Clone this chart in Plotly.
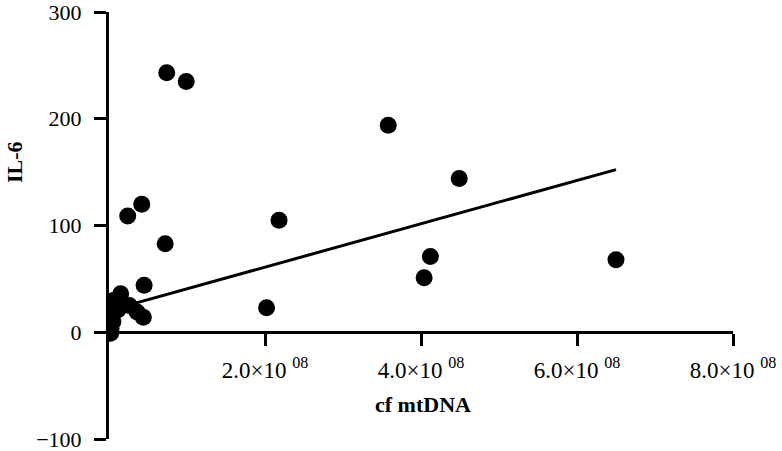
import plotly.graph_objects as go
import numpy as np

# cf mtDNA (copies) and IL-6 values
cf_mtdna = [7.4e7, 9.9e7, 3.58e8, 4.49e8, 2.18e8, 4.12e8, 4.04e8, 6.5e8, 2.02e8,
            7.2e7, 4.2e7, 2.4e7, 4.5e7,
            1.5e7, 6.4e6, 2.6e7, 3.6e7, 4.4e7, 2.6e6, 5.0e6, 2.6e6, 2.0e6, 1.15e7, 0.5e6]
il6 = [243, 235, 194, 144, 105, 71, 51, 68, 23,
       83, 120, 109, 44,
       36, 30, 25, 19, 14, 16, 10, 3, -1, 21, 7]

# regression line
fit_intercept = 20.4
fit_slope = 2.03e-7

x_tickvals = [2e8, 4e8, 6e8, 8e8]
x_ticktext = ["2.0×10 <sup>08</sup>", "4.0×10 <sup>08</sup>", "6.0×10 <sup>08</sup>", "8.0×10 <sup>08</sup>"]
y_tickvals = [-100, 0, 100, 200, 300]

FONT = "Liberation Serif"
W, H = 782, 451

fig = go.Figure()
fx = np.array([min(cf_mtdna), max(cf_mtdna)])
fig.add_trace(go.Scatter(x=fx, y=fit_intercept + fit_slope * fx, mode="lines",
                         line=dict(color="black", width=3), showlegend=False))
fig.add_trace(go.Scatter(x=cf_mtdna, y=il6, mode="markers",
                         marker=dict(color="black", size=17, line=dict(width=0)),
                         showlegend=False))

ydom = [(H - 439) / H, (H - 12) / H]
fig.update_layout(
    width=W, height=H,
    margin=dict(l=0, r=0, t=0, b=0),
    paper_bgcolor="white", plot_bgcolor="white",
    font=dict(family=FONT, color="black", size=23),
    xaxis=dict(range=[0, 8e8], tickvals=x_tickvals, ticktext=x_ticktext,
               domain=[109 / W, 733 / W], automargin=False, ticklabeloverflow="allow",
               showgrid=False, zeroline=False, showline=True, linecolor="black", linewidth=3,
               ticks="outside", ticklen=12, tickwidth=3, tickcolor="black",
               anchor="free", position=ydom[0] + 0.25 * (ydom[1] - ydom[0]),
               ticklabelstandoff=4,
               tickfont=dict(family=FONT, size=23)),
    yaxis=dict(range=[-100, 300], tickvals=y_tickvals, domain=ydom, automargin=False,
               ticklabeloverflow="allow",
               showgrid=False, zeroline=False, showline=True, linecolor="black", linewidth=3,
               ticks="outside", ticklen=12, tickwidth=3, tickcolor="black",
               ticklabelstandoff=8,
               tickfont=dict(family=FONT, size=22)),
    annotations=[
        dict(text="<b>cf mtDNA</b>", x=423 / W, y=1 - 404 / H, xref="paper", yref="paper",
             xanchor="center", yanchor="middle",
             showarrow=False, font=dict(family=FONT, size=22)),
        dict(text="<b>IL-6</b>", x=15 / W, y=1 - 162 / H, xref="paper", yref="paper",
             xanchor="center", yanchor="middle",
             showarrow=False, textangle=-90, font=dict(family=FONT, size=22)),
    ],
)

fig.write_html("out.html", config={"displayModeBar": False},
               post_script="document.body.style.margin='0';")
